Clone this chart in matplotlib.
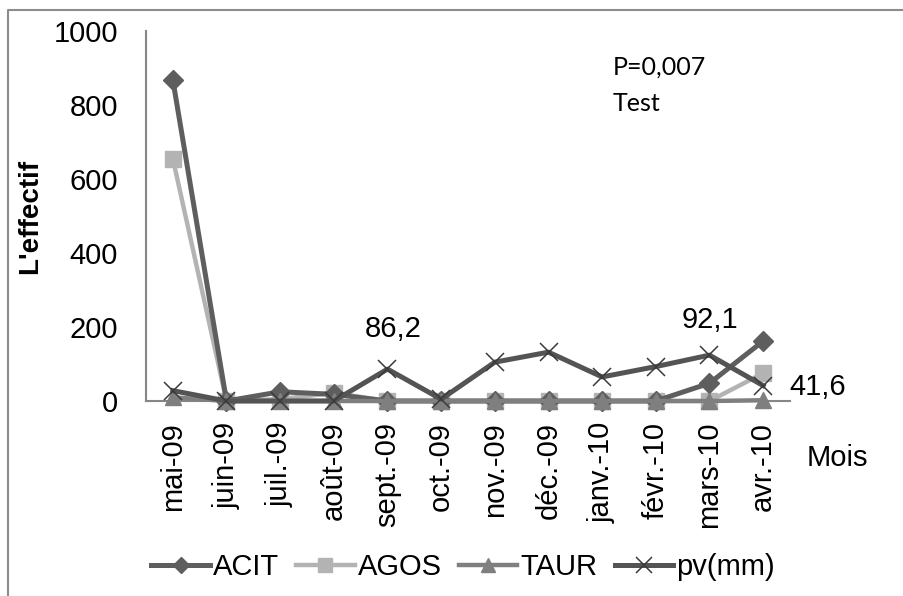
import matplotlib
matplotlib.use("Agg")
import matplotlib.pyplot as plt
from matplotlib.lines import Line2D

months = ["mai-09", "juin-09", "juil.-09", "août-09", "sept.-09", "oct.-09",
          "nov.-09", "déc.-09", "janv.-10", "févr.-10", "mars-10", "avr.-10"]
acit = [868, 0, 25, 18, 0, 0, 0, 0, 0, 0, 48, 162]
agos = [655, 0, 5, 22, 0, 0, 0, 0, 0, 0, 0, 75]
taur = [10, 0, 0, 0, 0, 0, 0, 0, 0, 0, 0, 2]
pv = [28, 0, 0, 0, 86.2, 5, 105, 132, 65, 93, 124, 41.6]

yticks = [0, 200, 400, 600, 800, 1000]
point_labels = [(4.1, 195, "86,2", "center"),
                (10.0, 219, "92,1", "center"),
                (11.48, 38, "41,6", "left")]

plt.rcParams["font.family"] = ["Liberation Sans", "DejaVu Sans"]

W, H = 904, 596
fig = plt.figure(figsize=(W / 100, H / 100), dpi=100)
ax = fig.add_axes([146 / W, 1 - 401 / H, (790 - 146) / W, (401 - 31) / H])

x = list(range(len(months)))
ax.plot(x, acit, color="#5e5e5e", lw=3.6, marker="D", ms=10,
        mec="#5e5e5e", mfc="#5e5e5e", label="ACIT", zorder=3, clip_on=False)
ax.plot(x, agos, color="#b3b3b3", lw=3.2, marker="s", ms=12,
        mec="#b3b3b3", mfc="#b3b3b3", label="AGOS", zorder=2, clip_on=False)
ax.plot(x, taur, color="#7f7f7f", lw=3.2, marker="^", ms=12,
        mec="#7f7f7f", mfc="#7f7f7f", label="TAUR", zorder=4, clip_on=False)
ax.plot(x, pv, color="#545454", lw=3.6, marker="x", ms=13, mew=1.1,
        mec="#3a3a3a", label="pv(mm)", zorder=5, clip_on=False)

ax.set_xlim(-0.5, len(months) - 0.5)
ax.set_ylim(0, 1000)
ax.set_yticks(yticks)
ax.set_xticks(x)
ax.set_xticklabels(months, rotation=90, ha="center", va="top")
ax.tick_params(axis="both", length=0, labelsize=21)
ax.tick_params(axis="x", pad=15)
ax.tick_params(axis="y", pad=20)
for s in ["top", "right"]:
    ax.spines[s].set_visible(False)
for s in ["left", "bottom"]:
    ax.spines[s].set_color("#868686")
    ax.spines[s].set_linewidth(1.5)
ax.spines["bottom"].set_zorder(1)

for xp, yp, txt, ha in point_labels:
    ax.text(xp, yp, txt, fontsize=21, ha=ha, va="center", zorder=6)

fig.text(30 / W, 1 - 216 / H, "L'effectif", rotation=90, fontsize=20,
         fontweight="bold", ha="center", va="center")
fig.text(807 / W, 1 - 458 / H, "Mois", fontsize=21, ha="left", va="center")
fig.text(613 / W, 1 - 75 / H, "P=0,007", fontsize=18, family="Lato",
         ha="left", va="baseline")
fig.text(613 / W, 1 - 111 / H, "Test", fontsize=18, family="Lato",
         ha="left", va="baseline")

leg = fig.legend(loc="center", bbox_to_anchor=(463 / W, 1 - 567 / H),
                 ncol=4, frameon=False, fontsize=21, handlelength=2.0,
                 handletextpad=0.1, columnspacing=0.6, borderaxespad=0,
                 markerscale=0.85)

# outer chart frame (only top and left edges show in the crop)
fig.add_artist(Line2D([8 / W, 8 / W, 1], [0, 1 - 10 / H, 1 - 10 / H],
                      transform=fig.transFigure, color="#8c8c8c", lw=1.5))

fig.savefig("out.png", dpi=100)
